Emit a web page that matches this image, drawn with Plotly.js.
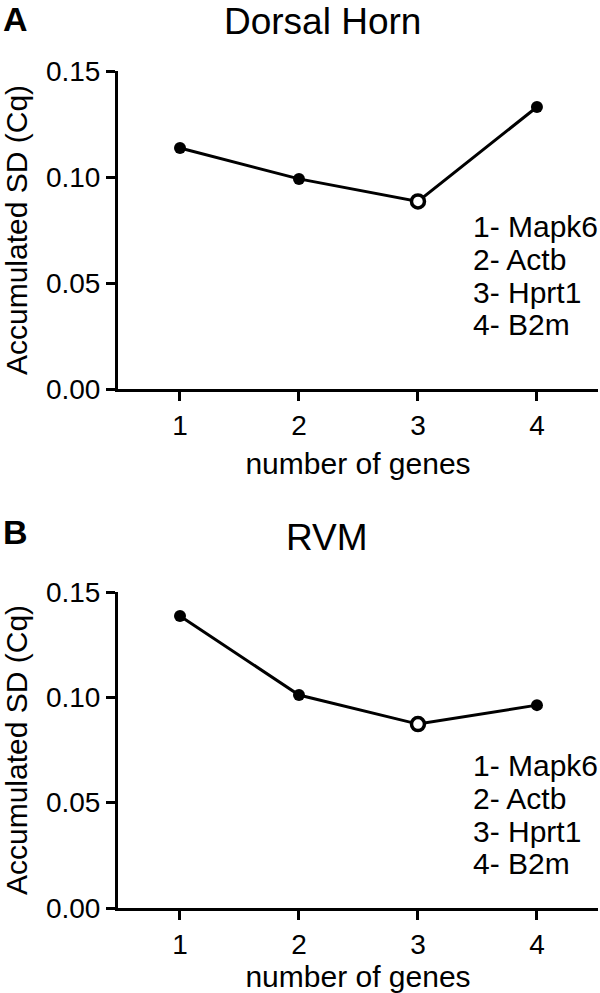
<!DOCTYPE html>
<html>
<head>
<meta charset="utf-8">
<script src="https://cdn.plot.ly/plotly-3.0.1.min.js"></script>
<style>
  html, body { margin: 0; padding: 0; background: #fff; }
  #chart { width: 600px; height: 993px; }
</style>
</head>
<body>
<div id="chart"></div>
<script>
// ---- data ----
const geneCounts = [1, 2, 3, 4];
const dorsalHornSD = [0.1137, 0.0991, 0.0885, 0.1330];
const rvmSD = [0.1386, 0.1011, 0.0873, 0.0963];
const optimalIndex = 2; // open marker at 3 genes
const geneLegend = ['1- Mapk6', '2- Actb', '3- Hprt1', '4- B2m'];
const panelTitles = ['Dorsal Horn', 'RVM'];
const panelLetters = ['A', 'B'];
const yTickVals = [0, 0.05, 0.10, 0.15];

// ---- layout helpers (pixels -> paper) ----
const W = 600, H = 993;
const px = x => x / W;
const py = y => (H - y) / H;
const FONT = 'Arial, "Liberation Sans", Helvetica, sans-serif';

function markerFor() {
  return {
    size: geneCounts.map((_, i) => i === optimalIndex ? 13 : 12),
    color: geneCounts.map((_, i) => i === optimalIndex ? '#ffffff' : '#000000'),
    opacity: 1,
    line: { color: '#000000', width: geneCounts.map((_, i) => i === optimalIndex ? 3.5 : 0) }
  };
}

const traces = [
  { x: geneCounts, y: dorsalHornSD, xaxis: 'x', yaxis: 'y', type: 'scatter', mode: 'lines+markers',
    line: { color: '#000', width: 3 }, marker: markerFor(), cliponaxis: false, showlegend: false, hoverinfo: 'x+y' },
  { x: geneCounts, y: rvmSD, xaxis: 'x2', yaxis: 'y2', type: 'scatter', mode: 'lines+markers',
    line: { color: '#000', width: 3 }, marker: markerFor(), cliponaxis: false, showlegend: false, hoverinfo: 'x+y' }
];

const xRange = [0.479, 4.513];
function xAxis(anchor) {
  return {
    domain: [px(118), px(598)], anchor: anchor, range: xRange,
    tickvals: geneCounts, ticktext: geneCounts.map(String),
    showline: true, linecolor: '#000', linewidth: 3, mirror: false,
    ticks: 'outside', ticklen: 9, tickwidth: 3, tickcolor: '#000',
    showgrid: false, zeroline: false,
    tickfont: { family: FONT, size: 28, color: '#000' },
    title: { text: 'number of genes', font: { family: FONT, size: 30, color: '#000' }, standoff: 14 },
    fixedrange: true
  };
}
function yAxis(domain, anchor) {
  return {
    domain: domain, anchor: anchor, range: [0, 0.15],
    tickvals: yTickVals, tickformat: '.2f',
    showline: true, linecolor: '#000', linewidth: 3,
    ticks: 'outside', ticklen: 9, tickwidth: 3, tickcolor: '#000',
    showgrid: false, zeroline: false,
    tickfont: { family: FONT, size: 28, color: '#000' },
    title: { text: 'Accumulated SD (Cq)', font: { family: FONT, size: 30, color: '#000' }, standoff: 14 },
    fixedrange: true
  };
}

const annotations = [];
// panel titles
const titleCenters = [[322, 21], [327, 537]];
panelTitles.forEach((t, i) => annotations.push({
  text: t, xref: 'paper', yref: 'paper', x: px(titleCenters[i][0]), y: py(titleCenters[i][1]),
  xanchor: 'center', yanchor: 'middle', showarrow: false,
  font: { family: FONT, size: 37, color: '#000' }
}));
// panel letters
const letterCenters = [[15, 19], [15, 532]];
panelLetters.forEach((t, i) => annotations.push({
  text: '<b>' + t + '</b>', xref: 'paper', yref: 'paper', x: px(letterCenters[i][0]), y: py(letterCenters[i][1]),
  xanchor: 'center', yanchor: 'middle', showarrow: false,
  font: { family: FONT, size: 34, color: '#000' }
}));
// gene key text in each panel
const keyStarts = [227, 766];
keyStarts.forEach(y0 => {
  geneLegend.forEach((g, j) => annotations.push({
    text: g, xref: 'paper', yref: 'paper', x: px(471), y: py(y0 + j * 32.5),
    xanchor: 'left', yanchor: 'middle', showarrow: false,
    font: { family: FONT, size: 30, color: '#000' }
  }));
});

const layout = {
  width: W, height: H,
  margin: { l: 0, r: 0, t: 0, b: 0 },
  paper_bgcolor: '#fff', plot_bgcolor: '#fff',
  xaxis: xAxis('y'),
  yaxis: yAxis([py(389), py(71)], 'x'),
  xaxis2: xAxis('y2'),
  yaxis2: yAxis([py(908), py(592)], 'x2'),
  annotations: annotations,
  showlegend: false
};

Plotly.newPlot('chart', traces, layout, { displayModeBar: false, staticPlot: true });
</script>
</body>
</html>
